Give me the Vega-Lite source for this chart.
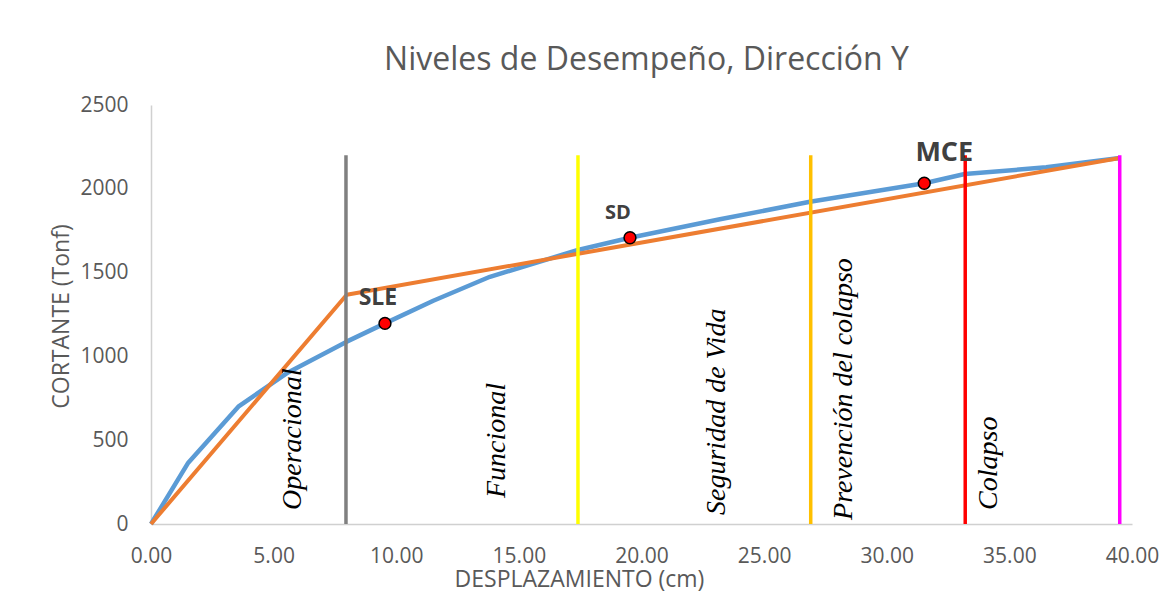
{
  "$schema": "https://vega.github.io/schema/vega-lite/v6.json",
  "width": 981,
  "height": 419,
  "autosize": {"type": "none"},
  "padding": {"left": 151, "top": 105, "right": 30, "bottom": 75},
  "background": "white",
  "config": {"view": {"stroke": null}, "font": "Open Sans"},
  "title": {
    "text": "Niveles de Desempeño, Dirección Y",
    "font": "Open Sans",
    "fontSize": 32,
    "fontWeight": "normal",
    "color": "#595959",
    "anchor": "middle",
    "frame": "group",
    "baseline": "alphabetic",
    "offset": 24,
    "dx": 5,
    "dy": 32
  },
  "datasets": {
    "capacidad": [
      {"desplazamiento": 0.0, "cortante": 0},
      {"desplazamiento": 1.52, "cortante": 366},
      {"desplazamiento": 3.56, "cortante": 700},
      {"desplazamiento": 5.53, "cortante": 899},
      {"desplazamiento": 7.98, "cortante": 1088},
      {"desplazamiento": 9.54, "cortante": 1197},
      {"desplazamiento": 11.51, "cortante": 1332},
      {"desplazamiento": 13.82, "cortante": 1475},
      {"desplazamiento": 17.41, "cortante": 1635},
      {"desplazamiento": 19.53, "cortante": 1708},
      {"desplazamiento": 23.2, "cortante": 1818},
      {"desplazamiento": 26.87, "cortante": 1923},
      {"desplazamiento": 31.53, "cortante": 2033},
      {"desplazamiento": 33.18, "cortante": 2088},
      {"desplazamiento": 36.5, "cortante": 2128},
      {"desplazamiento": 39.5, "cortante": 2184}
    ],
    "bilineal": [
      {"desplazamiento": 0.0, "cortante": 0},
      {"desplazamiento": 7.98, "cortante": 1368},
      {"desplazamiento": 39.5, "cortante": 2184}
    ],
    "niveles": [
      {"nivel": "Operacional", "desplazamiento": 7.95, "cortante_min": 0, "cortante_max": 2200},
      {"nivel": "Funcional", "desplazamiento": 17.41, "cortante_min": 0, "cortante_max": 2200},
      {"nivel": "Seguridad de Vida", "desplazamiento": 26.9, "cortante_min": 0, "cortante_max": 2200},
      {"nivel": "Prevención del colapso", "desplazamiento": 33.2, "cortante_min": 0, "cortante_max": 2200},
      {"nivel": "Colapso", "desplazamiento": 39.5, "cortante_min": 0, "cortante_max": 2200}
    ],
    "puntos": [
      {"sismo": "SLE", "desplazamiento": 9.54, "cortante": 1197},
      {"sismo": "SD", "desplazamiento": 19.53, "cortante": 1708},
      {"sismo": "MCE", "desplazamiento": 31.53, "cortante": 2033}
    ],
    "zonas": [
      {"zona": "Operacional", "desplazamiento": 5.81, "cortante": 84},
      {"zona": "Funcional", "desplazamiento": 14.12, "cortante": 155},
      {"zona": "Seguridad de Vida", "desplazamiento": 23.09, "cortante": 54},
      {"zona": "Prevención del colapso", "desplazamiento": 28.25, "cortante": 24},
      {"zona": "Colapso", "desplazamiento": 34.16, "cortante": 84}
    ]
  },
  "encoding": {
    "x": {
      "field": "desplazamiento",
      "type": "quantitative",
      "scale": {"domain": [0, 40], "nice": false, "zero": true},
      "axis": {
        "title": "DESPLAZAMIENTO (cm)",
        "values": [0, 5, 10, 15, 20, 25, 30, 35, 40],
        "format": ".2f",
        "grid": false,
        "ticks": false,
        "tickSize": 0,
        "labelFlush": false,
        "labelFont": "Open Sans",
        "labelFontSize": 21,
        "labelColor": "#595959",
        "labelBaseline": "middle",
        "labelPadding": 32,
        "domainColor": "#d0d0d0",
        "domainWidth": 1.5,
        "titleFont": "Open Sans",
        "titleFontSize": 23,
        "titleFontWeight": "normal",
        "titleColor": "#595959",
        "titleX": 428,
        "titleY": 62,
        "titleAlign": "center",
        "titleBaseline": "alphabetic"
      }
    },
    "y": {
      "field": "cortante",
      "type": "quantitative",
      "scale": {"domain": [0, 2500], "nice": false},
      "axis": {
        "title": "CORTANTE (Tonf)",
        "values": [0, 500, 1000, 1500, 2000, 2500],
        "format": "d",
        "grid": false,
        "ticks": false,
        "tickSize": 0,
        "labelFont": "Open Sans",
        "labelFontSize": 21,
        "labelColor": "#595959",
        "labelPadding": 23,
        "domainColor": "#d0d0d0",
        "domainWidth": 1.5,
        "titleFont": "Open Sans",
        "titleFontSize": 23,
        "titleFontWeight": "normal",
        "titleColor": "#595959",
        "titleAngle": -90,
        "titleX": -83,
        "titleY": 211,
        "titleAlign": "center",
        "titleBaseline": "alphabetic"
      }
    }
  },
  "layer": [
    {
      "data": {"name": "capacidad"},
      "mark": {"type": "line", "color": "#5b9bd5", "strokeWidth": 4.5, "strokeJoin": "round"}
    },
    {
      "data": {"name": "bilineal"},
      "mark": {"type": "line", "color": "#ed7d31", "strokeWidth": 4, "strokeJoin": "round"}
    },
    {
      "data": {"name": "niveles"},
      "mark": {"type": "rule", "strokeWidth": 3.5},
      "encoding": {
        "y": {"field": "cortante_min", "type": "quantitative"},
        "y2": {"field": "cortante_max"},
        "color": {
          "field": "nivel",
          "type": "nominal",
          "scale": {
            "domain": ["Operacional", "Funcional", "Seguridad de Vida", "Prevención del colapso", "Colapso"],
            "range": ["#808080", "#ffff00", "#ffc000", "#ff0000", "#ff00ff"]
          },
          "legend": null
        }
      }
    },
    {
      "data": {"name": "puntos"},
      "mark": {"type": "point", "filled": true, "fill": "#ff0000", "stroke": "#000000", "strokeWidth": 1.5, "size": 140, "opacity": 1}
    },
    {
      "data": {"name": "puntos"},
      "transform": [{"filter": "datum.sismo === 'SLE'"}],
      "mark": {"type": "text", "font": "Open Sans", "fontWeight": "bold", "fontSize": 23, "color": "#404040", "align": "center", "baseline": "middle", "dx": -7, "dy": -25},
      "encoding": {"text": {"field": "sismo"}}
    },
    {
      "data": {"name": "puntos"},
      "transform": [{"filter": "datum.sismo === 'SD'"}],
      "mark": {"type": "text", "font": "Open Sans", "fontWeight": "bold", "fontSize": 20, "color": "#404040", "align": "center", "baseline": "middle", "dx": -12, "dy": -25},
      "encoding": {"text": {"field": "sismo"}}
    },
    {
      "data": {"name": "puntos"},
      "transform": [{"filter": "datum.sismo === 'MCE'"}],
      "mark": {"type": "text", "font": "Open Sans", "fontWeight": "bold", "fontSize": 27, "color": "#404040", "align": "center", "baseline": "middle", "dx": 20, "dy": -30},
      "encoding": {"text": {"field": "sismo"}}
    },
    {
      "data": {"name": "zonas"},
      "mark": {"type": "text", "font": "Liberation Serif", "fontStyle": "italic", "fontSize": 28, "color": "#000000", "angle": 270, "align": "left", "baseline": "middle"},
      "encoding": {"text": {"field": "zona"}}
    }
  ]
}
